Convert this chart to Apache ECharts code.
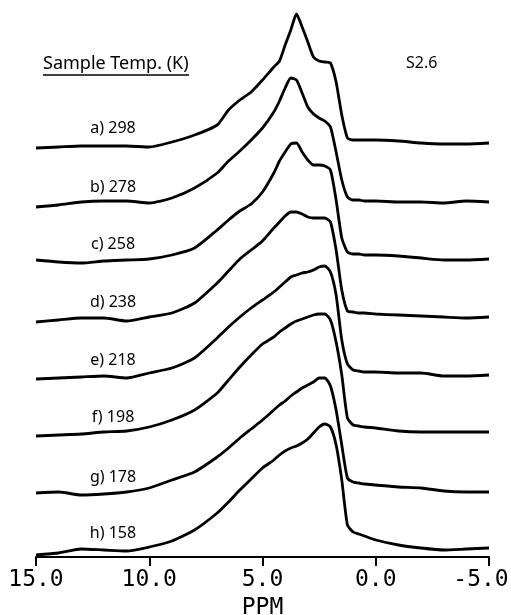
<!DOCTYPE html>
<html>
<head>
<meta charset="utf-8">
<title>Sample Temp. (K) - S2.6</title>
<script src="https://cdn.jsdelivr.net/npm/echarts@6/dist/echarts.min.js"></script>
<style>
  html, body { margin: 0; padding: 0; background: #ffffff; }
  #chart { width: 511px; height: 615px; }
</style>
</head>
<body>
<div id="chart"></div>
<script>
// chemical shift grid (ppm), shared by every trace
var ppm = [15, 14, 13, 12, 11, 10, 9, 8, 7, 6.5, 6, 5.5, 5, 4.5, 4.25, 4, 3.75, 3.5, 3.25, 3, 2.75, 2.5, 2.25, 2, 1.75, 1.5, 1.25, 1.0, 0.75, 0.5, 0, -1, -2, -3, -4, -5]

// trace labels (sample temperature, K)
var traceNames = ['a) 298', 'b) 278', 'c) 258', 'd) 238', 'e) 218', 'f) 198', 'g) 178', 'h) 158']

// vertical offset of each trace (stacked plot)
var offsets = [414, 355, 298, 240, 182, 125, 65, 9]

// intensities (arbitrary units)
var specA = [-5, -4, -3, -3, -3, -4, 1, 8, 18, 33, 43, 51, 63, 76, 82, 98, 113, 129, 116, 101, 86, 82, 81, 80, 61, 28, 5, 3, 3, 3, 3, 2, 0, -1, -1, 0]
var specB = [-5, -3, 0, 1, 1, -1, 4, 14, 29, 41, 51, 62, 74, 90, 101, 114, 124, 122, 109, 95, 88, 84, 81, 75, 50, 22, 5, 2, 2, 1, 1, 0, 0, -1, 1, 0]
var specC = [-1, -3, -4, -2, -1, 0, 4, 11, 29, 39, 48, 55, 67, 86, 98, 107, 115, 116, 107, 99, 94, 94, 93, 89, 59, 21, 7, 5, 5, 4, 4, 3, 1, -1, -1, 0]
var specD = [-5, -3, -1, -1, -4, 0, 4, 14, 34, 46, 58, 67, 76, 89, 95, 101, 105, 105, 103, 100, 99, 99, 99, 95, 67, 27, 6, 5, 4, 4, 3, 2, 1, 0, -1, 0]
var specE = [-4, -3, -2, -1, -3, 2, 7, 17, 37, 48, 58, 67, 75, 83, 88, 93, 98, 100, 102, 103, 105, 108, 109, 103, 80, 35, 11, 5, 4, 3, 3, 2, 2, -1, -1, 0]
var specF = [-4, -3, -2, 0, 1, 5, 12, 22, 39, 52, 65, 77, 88, 95, 100, 104, 108, 111, 113, 115, 117, 118, 118, 112, 90, 57, 14, 7, 6, 5, 4, 1, 0, 0, 0, 0]
var specG = [-1, 0, -3, -2, 0, 4, 12, 20, 35, 44, 54, 63, 72, 82, 87, 91, 96, 100, 104, 107, 110, 114, 114, 106, 82, 47, 14, 10, 9, 8, 7, 5, 4, 1, 0, 0]
var specH = [-7, -5, -1, -2, -3, 1, 7, 18, 35, 46, 58, 69, 80, 88, 93, 97, 100, 102, 105, 109, 115, 121, 124, 121, 103, 68, 23, 16, 14, 12, 8, 3, 0, -2, -1, 0]

var spectra = [specA, specB, specC, specD, specE, specF, specG, specH]

// where the temperature label sits (ppm, height above the trace baseline)
var labelPpm = 11.6
var labelLift = 15

var chart = echarts.init(document.getElementById('chart'))

var series = []
for (var i = 0; i < spectra.length; i++) {
  var pts = []
  for (var j = 0; j < ppm.length; j++) {
    pts.push([ppm[j], offsets[i] + spectra[i][j]])
  }
  series.push({
    name: traceNames[i],
    type: 'line',
    data: pts,
    showSymbol: false,
    smooth: 0.2,
    clip: false,
    lineStyle: { color: '#000000', width: 2.8 },
    markPoint: {
      symbol: 'circle',
      symbolSize: 1,
      itemStyle: { color: 'rgba(0,0,0,0)' },
      label: {
        show: true,
        position: 'inside',
        formatter: traceNames[i],
        color: '#000000',
        fontFamily: 'Noto Sans',
        fontSize: 16
      },
      data: [{ coord: [labelPpm, offsets[i] + labelLift] }]
    }
  })
}

var option = {
  animation: false,
  backgroundColor: '#ffffff',
  grid: {
    left: 36,
    right: 22,
    top: 0,
    bottom: 58,
    // v6 would otherwise shrink the grid to keep "-5.0" inside the canvas
    outerBoundsMode: 'none'
  },
  xAxis: {
    type: 'value',
    inverse: true,
    min: -5,
    max: 15,
    interval: 5,
    name: 'PPM',
    nameLocation: 'middle',
    nameGap: 37,
    nameTextStyle: {
      color: '#000000',
      fontFamily: 'DejaVu Sans Mono',
      fontSize: 23
    },
    axisLine: { lineStyle: { color: '#000000', width: 2 } },
    axisTick: { length: 9, lineStyle: { color: '#000000', width: 2 } },
    axisLabel: {
      margin: 12,
      color: '#000000',
      fontFamily: 'DejaVu Sans Mono',
      fontSize: 23,
      // negative labels: minus sign hangs left of the tick, digits stay centred
      formatter: function (v) {
        var s = v.toFixed(1)
        return v < 0 ? '{neg|' + s + '}' : s
      },
      rich: {
        neg: {
          color: '#000000',
          fontFamily: 'DejaVu Sans Mono',
          fontSize: 23,
          padding: [0, 16, 0, 0]
        }
      }
    },
    splitLine: { show: false }
  },
  yAxis: {
    type: 'value',
    min: 0,
    max: 557,
    show: false
  },
  graphic: [
    {
      type: 'text',
      left: 43,
      top: 55,
      style: {
        text: 'Sample Temp. (K)',
        fill: '#000000',
        font: '18px "Noto Sans"'
      }
    },
    {
      type: 'line',
      shape: { x1: 43, y1: 75, x2: 189, y2: 75 },
      style: { stroke: '#000000', lineWidth: 1.5 }
    },
    {
      type: 'text',
      left: 406,
      top: 55,
      style: {
        text: 'S2.6',
        fill: '#000000',
        font: '16px "Noto Sans"'
      }
    }
  ],
  series: series
}

chart.setOption(option)
</script>
</body>
</html>
